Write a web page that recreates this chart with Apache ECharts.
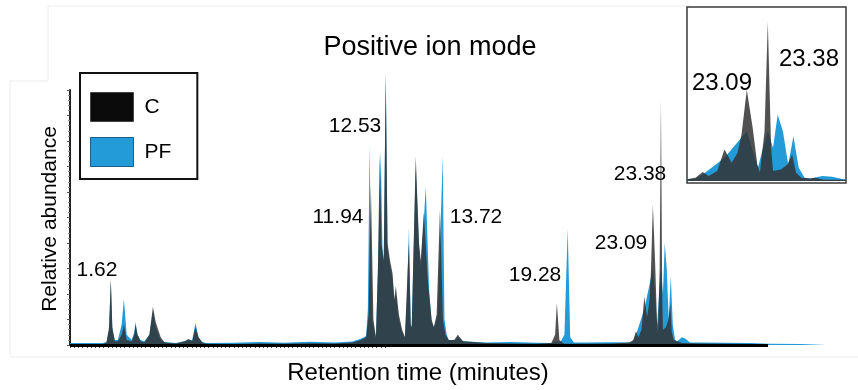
<!DOCTYPE html>
<html>
<head>
<meta charset="utf-8">
<script src="https://cdn.jsdelivr.net/npm/echarts@6/dist/echarts.min.js"></script>
<style>
  html, body { margin: 0; padding: 0; background: #fff; }
  #chart { width: 858px; height: 390px; }
</style>
</head>
<body>
<div id="chart"></div>
<script>
// retention time (min), relative abundance
var seriesC = [
  [0, 0.3], [1.3, 0.4], [1.45, 1], [1.55, 7], [1.62, 26], [1.68, 7], [1.78, 1.5], [1.9, 1.5], [2.05, 4],
  [2.14, 8], [2.25, 2], [2.45, 1.5], [2.55, 4], [2.6, 8], [2.68, 4], [2.8, 1.5], [2.95, 1], [3.15, 4],
  [3.29, 15], [3.4, 9], [3.5, 6], [3.6, 3], [3.75, 1], [4.2, 0.6], [4.55, 1.5], [4.7, 2.4], [4.85, 1.5],
  [4.98, 7], [5.1, 3], [5.25, 1], [5.4, 0.5],
  [6.5, 0.4], [7.5, 0.6], [8.5, 0.5], [9.5, 0.7], [10.5, 0.6], [11.2, 1], [11.54, 2], [11.75, 3],
  [11.85, 12], [11.94, 62], [12.04, 10], [12.14, 3], [12.22, 30], [12.29, 75], [12.36, 40], [12.45, 33],
  [12.53, 107], [12.6, 40], [12.7, 33], [12.8, 28], [12.87, 18], [12.93, 23], [13.05, 12], [13.18, 6],
  [13.29, 3], [13.4, 30], [13.45, 40], [13.52, 8], [13.56, 7], [13.72, 74], [13.85, 40], [13.92, 33],
  [14.04, 52], [14.2, 25], [14.35, 10], [14.44, 7], [14.55, 12], [14.68, 53], [14.8, 10], [14.9, 4],
  [15.03, 2], [15.25, 2], [15.39, 4], [15.6, 1.5], [16.5, 0.8], [17.5, 0.6], [18.5, 0.5],
  [19.1, 0.8], [19.25, 4], [19.32, 16.5], [19.42, 2], [19.6, 0.5], [20.5, 0.5], [21.5, 0.6], [22.2, 1],
  [22.35, 2], [22.46, 5.4], [22.55, 3], [22.68, 6], [22.79, 19], [22.9, 11], [22.99, 17], [23.05, 28],
  [23.13, 55], [23.22, 32], [23.29, 10], [23.33, 5], [23.4, 30], [23.45, 96], [23.5, 20], [23.53, 6],
  [23.65, 7], [23.75, 10], [23.82, 16], [23.88, 5], [23.96, 2], [24.1, 1.5], [24.17, 2], [24.3, 0.8],
  [25, 0.6], [26, 0.5], [27, 0.4], [27.7, 0.3]
];
var seriesPF = [
  [0, 0.8], [1.3, 0.8], [1.45, 1.2], [1.55, 6], [1.62, 25], [1.68, 6], [1.78, 2], [1.9, 2], [2.05, 8],
  [2.14, 18], [2.25, 4], [2.45, 2], [2.55, 5], [2.6, 9], [2.68, 4], [2.8, 2], [2.95, 1.5], [3.15, 4],
  [3.29, 13], [3.4, 7], [3.5, 4], [3.6, 2], [3.75, 1.2], [4.2, 0.8], [4.55, 1.5], [4.7, 2], [4.85, 2],
  [4.98, 8.6], [5.1, 3], [5.25, 1.2], [5.4, 0.8],
  [6.5, 0.9], [7.5, 1.2], [8.5, 0.9], [9.5, 1.3], [10.5, 1], [11.2, 1.4], [11.54, 2.5], [11.75, 3.5],
  [11.82, 14], [11.89, 78], [11.98, 10], [12.14, 3], [12.22, 30], [12.33, 76], [12.4, 38], [12.45, 33],
  [12.53, 105], [12.6, 38], [12.7, 31], [12.8, 26], [12.87, 17], [12.93, 20], [13.05, 10], [13.18, 5],
  [13.29, 3], [13.38, 20], [13.45, 46], [13.52, 8], [13.56, 7], [13.72, 70], [13.85, 38], [13.92, 30],
  [14.12, 62], [14.25, 22], [14.35, 9], [14.44, 7], [14.6, 12], [14.79, 74], [14.86, 10], [14.95, 4],
  [15.03, 2], [15.25, 2], [15.39, 3], [15.6, 1.5], [16.5, 1], [17.5, 1.2], [18.5, 0.9],
  [19.1, 0.8], [19.32, 1.5], [19.45, 1], [19.62, 4], [19.75, 45.5], [19.85, 3], [20, 1], [20.5, 1],
  [21.5, 1.1], [22.2, 1], [22.35, 1.5], [22.46, 4], [22.79, 14], [23.13, 30], [23.3, 8], [23.37, 19],
  [23.45, 30], [23.53, 20], [23.6, 40], [23.68, 30], [23.76, 10], [23.84, 27], [23.92, 8], [24.01, 2],
  [24.1, 1.5], [24.28, 3], [24.43, 2.5], [24.6, 1], [25, 1], [26, 0.9], [27, 0.8], [27.7, 0.5],
  [29, 0.4], [30, 0.3]
];
var seriesNames = ['C', 'PF'];
var peakLabels = ['1.62', '11.94', '12.53', '13.72', '19.28', '23.09', '23.38'];
var insetLabels = ['23.09', '23.38'];
var baselineEnd = 27.7;

var FONT = '"Liberation Sans", Arial, Helvetica, sans-serif';
var BLUE = '#239bd8';
var DARK = '#333333';

// tick marks along the first part of the time axis (every 10 s)
var tickValues = [];
for (var i = 0; i <= 75; i++) tickValues.push(i / 6);

// where each peak label sits (pixels)
var labelPos = [[97, 270], [338, 217], [355, 126], [476, 217], [535, 275], [621, 243], [640, 174]];
var insetPos = [[722, 83], [809, 59]];

var graphics = [];
// faint scan frame lines
var frame = [[48, 6, 690, 6], [48, 6, 48, 81], [10, 81, 48, 81], [10, 81, 10, 355], [10, 357, 858, 357]];
frame.forEach(function (f) {
  graphics.push({ type: 'line', silent: true, shape: { x1: f[0], y1: f[1], x2: f[2], y2: f[3] },
    style: { stroke: '#ececec', lineWidth: 1 } });
});
graphics.push({ type: 'text', x: 430, y: 48, style: { text: 'Positive ion mode', font: '27px ' + FONT,
  fill: '#000', textAlign: 'center', textVerticalAlign: 'middle' } });
graphics.push({ type: 'text', x: 418, y: 373, style: { text: 'Retention time (minutes)', font: '24px ' + FONT,
  fill: '#000', textAlign: 'center', textVerticalAlign: 'middle' } });
graphics.push({ type: 'text', x: 50, y: 219, rotation: Math.PI / 2, style: { text: 'Relative abundance',
  font: '21px ' + FONT, fill: '#000', textAlign: 'center', textVerticalAlign: 'middle' } });
peakLabels.forEach(function (t, k) {
  graphics.push({ type: 'text', x: labelPos[k][0], y: labelPos[k][1], z: 10, style: { text: t,
    font: '21px ' + FONT, fill: '#000', textAlign: 'center', textVerticalAlign: 'middle' } });
});
insetLabels.forEach(function (t, k) {
  graphics.push({ type: 'text', x: insetPos[k][0], y: insetPos[k][1], z: 10, style: { text: t,
    font: '24px ' + FONT, fill: '#000', textAlign: 'center', textVerticalAlign: 'middle' } });
});

function areaSeries(name, data, color, opacity, ax) {
  return {
    name: name,
    type: 'line',
    xAxisIndex: ax,
    yAxisIndex: ax,
    data: data,
    showSymbol: false,
    symbol: 'none',
    clip: ax === 1,
    silent: true,
    lineStyle: { width: 0, color: color },
    itemStyle: { color: color },
    areaStyle: { color: color, opacity: opacity }
  };
}

var chart = echarts.init(document.getElementById('chart'), null, { renderer: 'canvas' });

var sC = areaSeries('C', seriesC, DARK, 0.85, 0);
sC.markLine = {
  symbol: 'none', silent: true, animation: false,
  label: { show: false },
  lineStyle: { color: '#000', width: 3, type: 'solid' },
  data: [[{ coord: [0, 0] }, { coord: [baselineEnd, 0] }]]
};

var option = {
  animation: false,
  backgroundColor: '#fff',
  textStyle: { fontFamily: FONT },
  legend: {
    orient: 'vertical',
    left: 80, top: 73,
    padding: [19, 26, 12, 10],
    itemGap: 15,
    itemWidth: 43, itemHeight: 29,
    borderColor: '#111', borderWidth: 2,
    icon: 'rect',
    textStyle: { fontSize: 21, color: '#000', fontFamily: FONT, padding: [0, 0, 0, 6] },
    data: [
      { name: seriesNames[0], itemStyle: { color: '#0b0b0b', borderColor: '#444', borderWidth: 1, opacity: 1 } },
      { name: seriesNames[1], itemStyle: { color: BLUE, borderColor: '#1b5f88', borderWidth: 1, opacity: 1 } }
    ]
  },
  grid: [
    { left: 70, right: 32, top: 90, bottom: 45 },
    { left: 687, top: 7, width: 159, height: 176, show: true, backgroundColor: '#fff',
      borderColor: '#3a3a3a', borderWidth: 1.5, z: 5 }
  ],
  xAxis: [
    { type: 'value', gridIndex: 0, min: 0, max: 30,
      axisLine: { show: false },
      axisLabel: { show: false },
      splitLine: { show: false },
      axisTick: { show: true, customValues: tickValues, length: 3, lineStyle: { color: '#444', width: 1 } } },
    { type: 'value', gridIndex: 1, min: 22.22, max: 24.64, show: false, splitLine: { show: false } }
  ],
  yAxis: [
    { type: 'value', gridIndex: 0, min: 0, max: 100, interval: 10,
      axisLine: { show: true, lineStyle: { color: '#222', width: 2 } },
      axisLabel: { show: false },
      splitLine: { show: false },
      axisTick: { show: true, length: 3, lineStyle: { color: '#555', width: 1 } },
      minorTick: { show: true, splitNumber: 5, length: 2, lineStyle: { color: '#888', width: 1 } } },
    { type: 'value', gridIndex: 1, min: -1.2, max: 105, show: false, splitLine: { show: false } }
  ],
  series: [
    areaSeries('PF', seriesPF, BLUE, 1, 0),
    sC,
    Object.assign(areaSeries('PF', seriesPF, BLUE, 1, 1), { z: 6 }),
    Object.assign(areaSeries('C', seriesC, DARK, 0.85, 1), { z: 7 })
  ],
  graphic: graphics
};
chart.setOption(option);
</script>
</body>
</html>
